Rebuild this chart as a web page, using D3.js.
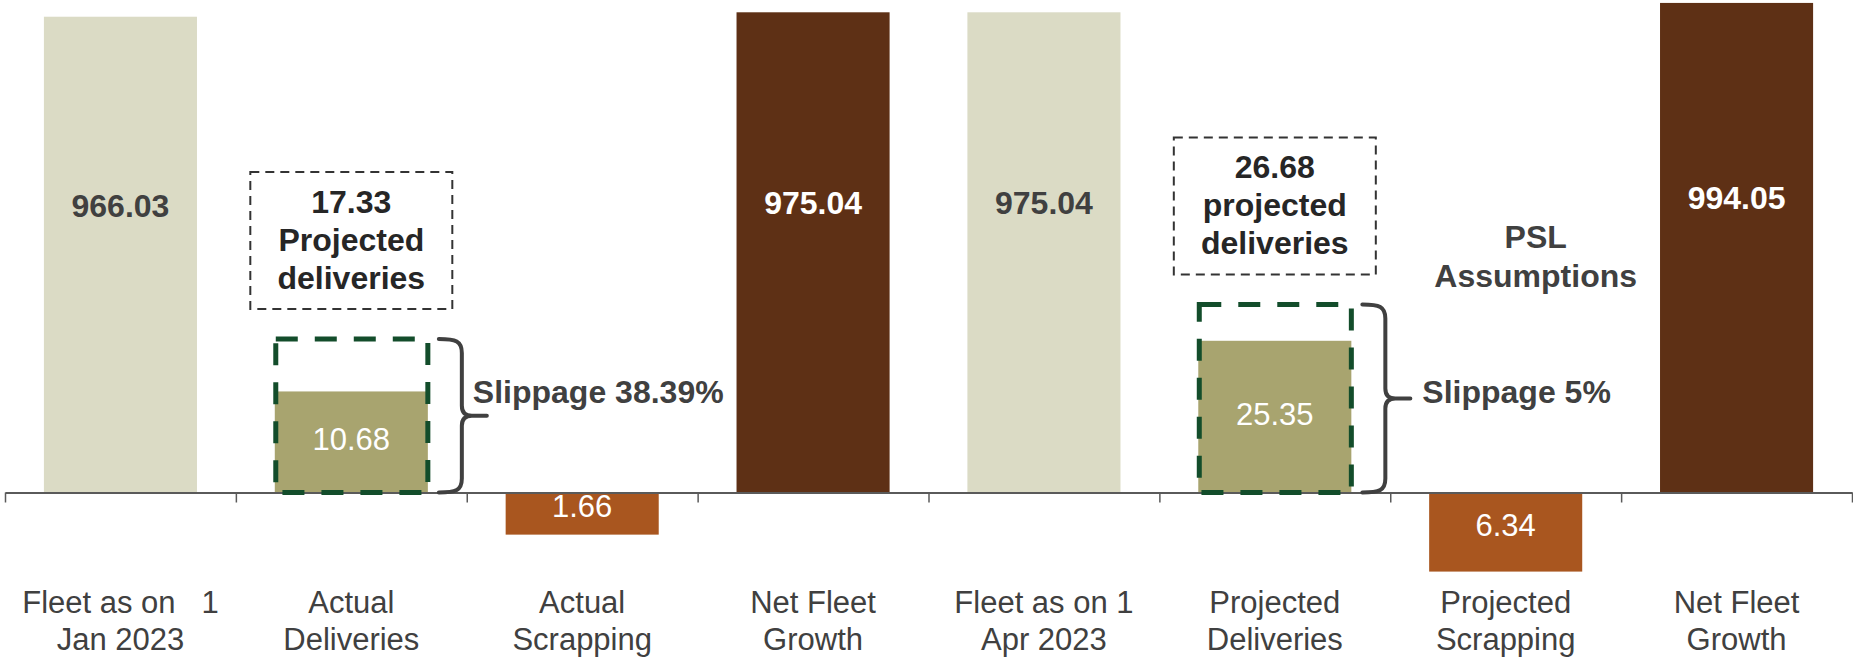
<!DOCTYPE html>
<html>
<head>
<meta charset="utf-8">
<script src="https://cdn.jsdelivr.net/npm/d3@7"></script>
<style>
  html, body { margin: 0; padding: 0; background: #ffffff; }
  svg { display: block; font-family: "Liberation Sans", Arial, Helvetica, sans-serif; }
</style>
</head>
<body>
<svg id="chart" width="1853" height="658"></svg>
<script>
// Fleet bridge: opening fleet, deliveries, scrapping, closing fleet (two periods)
const categories = ["Fleet Jan 2023", "Actual Deliveries", "Actual Scrapping", "Net Fleet Growth A",
                    "Fleet Apr 2023", "Projected Deliveries", "Projected Scrapping", "Net Fleet Growth P"];
const categoryLines = [
  ["Fleet as on\u00a0\u00a0\u00a01", "Jan 2023"],
  ["Actual", "Deliveries"],
  ["Actual", "Scrapping"],
  ["Net Fleet", "Growth"],
  ["Fleet as on 1", "Apr 2023"],
  ["Projected", "Deliveries"],
  ["Projected", "Scrapping"],
  ["Net Fleet", "Growth"]
];
const barKinds = ["total", "delivery", "scrap", "net", "total", "delivery", "scrap", "net"];
const barValues = [966.03, 10.68, -1.66, 975.04, 975.04, 25.35, -6.34, 994.05];
const projectedDeliveries = [null, 17.33, null, null, null, 26.68, null, null];
const projectedLines = [null, ["17.33", "Projected", "deliveries"], null, null,
                        null, ["26.68", "projected", "deliveries"], null, null];
const slippageLabels = [null, "Slippage 38.39%", null, null, null, "Slippage 5%", null, null];
const noteLines = ["PSL", "Assumptions"];

const fills = { total: "#dbdbc5", delivery: "#a8a46f", scrap: "#a9561f", net: "#5e3015" };
const labelFill = { total: "#404040", delivery: "#ffffff", scrap: "#ffffff", net: "#ffffff" };
const labelWeight = { total: "bold", delivery: "normal", scrap: "normal", net: "bold" };

const svg = d3.select("#chart");
const axisY = 492.5;

// category bands span the full width; ticks sit on the band edges
const x = d3.scaleBand().domain(categories).range([5, 1852]).paddingInner(0).paddingOuter(0);
const barW = x.bandwidth() * 0.663;
const barX = c => x(c) + (x.bandwidth() - barW) / 2;
const cx = c => x(c) + x.bandwidth() / 2;

// fleet levels on a linear scale from zero
const yLevel = d3.scaleLinear().domain([0, 1000]).range([axisY, 0]);
// deliveries / scrapping magnified on their own compressed scale (height in px)
const hChange = d3.scalePow().exponent(0.47).domain([0, 30]).range([0, 164.2]);

const rows = categories.map((c, i) => ({
  cat: c, kind: barKinds[i], value: barValues[i],
  proj: projectedDeliveries[i], projLines: projectedLines[i], slip: slippageLabels[i], i
}));

function barGeom(d) {
  if (d.kind === "total" || d.kind === "net") {
    return { y: yLevel(d.value), h: axisY - yLevel(d.value) };
  }
  const h = hChange(Math.abs(d.value));
  return d.value >= 0 ? { y: axisY - h, h } : { y: axisY, h };
}

// bars
svg.append("g").selectAll("rect").data(rows).join("rect")
  .attr("x", d => barX(d.cat))
  .attr("width", barW)
  .attr("y", d => barGeom(d).y)
  .attr("height", d => barGeom(d).h)
  .attr("fill", d => fills[d.kind]);

// axis: baseline with ticks on band boundaries
const edge = d3.scaleLinear().domain([0, categories.length]).range(x.range());
const axisG = svg.append("g").attr("transform", `translate(0,${axisY})`)
  .call(d3.axisBottom(edge).tickValues(d3.range(categories.length + 1))
    .tickFormat("").tickSize(10).tickSizeOuter(0));
axisG.select(".domain").attr("stroke", "#5a5a5a").attr("stroke-width", 2);
axisG.selectAll(".tick line").attr("stroke", "#5a5a5a").attr("stroke-width", 1.5);

// value labels
svg.append("g").selectAll("text").data(rows).join("text")
  .attr("x", d => cx(d.cat))
  .attr("y", d => {
    if (d.kind === "total" || d.kind === "net") return yLevel(d.value * 0.58);
    const g = barGeom(d);
    return g.y + g.h / 2 + (d.value >= 0 ? 8 : 3.5);
  })
  .attr("text-anchor", "middle")
  .attr("font-size", d => (d.kind === "total" || d.kind === "net") ? 32 : 31)
  .attr("font-weight", d => labelWeight[d.kind])
  .attr("fill", d => labelFill[d.kind])
  .text(d => Math.abs(d.value).toFixed(2));

// projected-delivery outlines, callout boxes, braces and slippage notes
const projRows = rows.filter(d => d.proj != null);
const headroom = 1.21;
const boxTop = d => axisY - hChange(d.proj) * headroom;

svg.append("g").selectAll("rect").data(projRows).join("rect")
  .attr("x", d => barX(d.cat) + 1)
  .attr("width", barW - 1)
  .attr("y", d => boxTop(d))
  .attr("height", d => axisY - boxTop(d))
  .attr("fill", "none")
  .attr("stroke", "#134d2b")
  .attr("stroke-width", 5)
  .attr("stroke-dasharray", "22,17");

const callW = 202, callH = 137, callGap = 30;
const callG = svg.append("g").selectAll("g").data(projRows).join("g")
  .attr("transform", d => `translate(${cx(d.cat) - callW / 2},${boxTop(d) - callGap - callH})`);
callG.append("rect")
  .attr("width", callW).attr("height", callH)
  .attr("fill", "none").attr("stroke", "#333333")
  .attr("stroke-width", 2).attr("stroke-dasharray", "9,6");
callG.each(function (d) {
  d3.select(this).selectAll("text").data(d.projLines).join("text")
    .attr("x", callW / 2)
    .attr("y", (t, k) => 41 + k * 38)
    .attr("text-anchor", "middle")
    .attr("font-size", 32).attr("font-weight", "bold")
    .attr("fill", "#262626")
    .text(t => t);
});

function bracePath(x0, top, bot) {
  const v = x0 + 23, mid = (top + bot) / 2, tip = x0 + 48;
  return `M${x0},${top} C${x0 + 17},${top} ${v},${top + 2} ${v},${top + 14}` +
         `L${v},${mid - 10} Q${v},${mid} ${v + 10},${mid} L${tip},${mid}` +
         `M${v + 10},${mid} Q${v},${mid} ${v},${mid + 10}` +
         `L${v},${bot - 14} C${v},${bot - 2} ${x0 + 17},${bot} ${x0},${bot}`;
}
svg.append("g").selectAll("path").data(projRows).join("path")
  .attr("d", d => bracePath(barX(d.cat) + barW + 11, boxTop(d), axisY))
  .attr("fill", "none")
  .attr("stroke", "#404040")
  .attr("stroke-width", 4)
  .attr("stroke-linecap", "round")
  .attr("stroke-linejoin", "round");

const slipDx = [34, 60];
svg.append("g").selectAll("text").data(projRows).join("text")
  .attr("x", (d, k) => barX(d.cat) + barW + 11 + slipDx[k])
  .attr("y", 403)
  .attr("font-size", 32).attr("font-weight", "bold")
  .attr("fill", "#404040")
  .text(d => d.slip);

// scenario note
svg.append("g").selectAll("text").data(noteLines).join("text")
  .attr("x", cx(categories[6]) + 30)
  .attr("y", (t, k) => 248 + k * 39)
  .attr("text-anchor", "middle")
  .attr("font-size", 32).attr("font-weight", "bold")
  .attr("fill", "#404040")
  .text(t => t);

// category labels (two lines each)
const catG = svg.append("g").selectAll("text").data(rows).join("text")
  .attr("text-anchor", "middle")
  .attr("font-size", 31)
  .attr("fill", "#404040")
  .style("white-space", "pre");
catG.selectAll("tspan").data(d => categoryLines[d.i].map(t => ({ t, c: d.cat })))
  .join("tspan")
  .attr("x", s => cx(s.c))
  .attr("y", (s, k) => 613 + k * 37)
  .text(s => s.t);
</script>
</body>
</html>
